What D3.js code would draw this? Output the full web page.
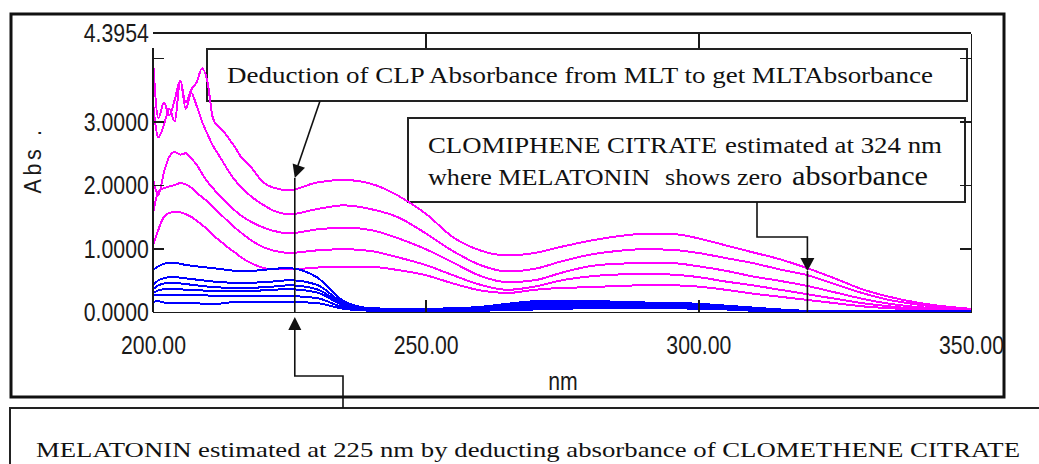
<!DOCTYPE html>
<html>
<head>
<meta charset="utf-8">
<script src="https://cdn.jsdelivr.net/npm/d3@7"></script>
<style>
  html, body { margin: 0; padding: 0; background: #fff; overflow: hidden; }
  svg { display: block; }
</style>
</head>
<body>
<svg id="chart" width="1039" height="464"></svg>
<script>
// Wavelength grid (nm) shared by every spectrum
const wavelengths = [200,201,202,203,204,205,206,207,208,209,210,211,212,213,214,215,216,218,220,222,225,
  230,235,240,245,250,255,260,265,270,275,280,285,290,295,300,305,310,315,320,325,330,335,340,345,350];

// Clomiphene citrate spectra (absorbance), highest to lowest concentration
const clp1 = [3.98,3.05,3.30,3.10,3.35,3.65,3.30,3.50,3.62,3.84,3.62,3.05,2.92,2.84,2.72,2.60,2.46,2.28,2.06,1.96,1.92,
  2.04,2.08,2.02,1.83,1.55,1.18,0.97,0.89,0.93,1.03,1.12,1.19,1.23,1.23,1.16,1.05,0.94,0.83,0.69,0.53,0.36,0.24,0.15,0.09,0.05];
const clp2 = [3.30,2.75,2.95,3.20,3.00,3.65,3.20,3.45,3.25,3.00,2.80,2.62,2.48,2.34,2.20,2.08,1.98,1.82,1.70,1.60,1.54,
  1.62,1.68,1.62,1.49,1.24,0.96,0.74,0.64,0.68,0.80,0.90,0.96,0.99,0.98,0.93,0.85,0.77,0.67,0.58,0.44,0.30,0.19,0.12,0.07,0.04];
const clp3 = [2.10,1.85,2.20,2.45,2.52,2.48,2.50,2.42,2.32,2.18,2.05,1.95,1.85,1.76,1.68,1.60,1.53,1.42,1.34,1.28,1.24,
  1.30,1.33,1.29,1.16,0.99,0.78,0.57,0.47,0.50,0.62,0.72,0.76,0.77,0.77,0.72,0.65,0.56,0.49,0.41,0.31,0.21,0.13,0.08,0.05,0.03];
const clp4 = [1.55,1.90,1.95,1.98,2.00,2.03,2.01,1.96,1.88,1.81,1.74,1.65,1.57,1.49,1.41,1.33,1.26,1.13,1.03,0.97,0.93,
  0.97,0.99,0.96,0.86,0.74,0.58,0.43,0.35,0.40,0.50,0.56,0.59,0.60,0.59,0.55,0.48,0.42,0.35,0.28,0.21,0.14,0.09,0.05,0.03,0.02];
const clp5 = [1.05,1.30,1.50,1.56,1.58,1.57,1.54,1.50,1.44,1.37,1.30,1.21,1.14,1.07,1.00,0.94,0.87,0.77,0.70,0.67,0.67,
  0.70,0.71,0.71,0.66,0.58,0.45,0.34,0.30,0.35,0.38,0.39,0.41,0.42,0.42,0.40,0.35,0.29,0.24,0.19,0.14,0.09,0.06,0.04,0.02,0.01];

// Melatonin spectra (absorbance)
const mlt1 = [0.66,0.72,0.76,0.77,0.77,0.76,0.74,0.73,0.72,0.71,0.70,0.69,0.68,0.67,0.66,0.65,0.65,0.65,0.66,0.68,0.69,
  0.55,0.17,0.06,0.05,0.05,0.06,0.08,0.13,0.17,0.18,0.18,0.16,0.15,0.14,0.13,0.10,0.07,0.04,0.02,0.02,0.02,0.02,0.02,0.02,0.02];
const mlt2 = [0.42,0.50,0.53,0.55,0.55,0.54,0.53,0.52,0.51,0.50,0.49,0.48,0.47,0.47,0.46,0.46,0.46,0.46,0.47,0.48,0.50,
  0.43,0.14,0.05,0.04,0.04,0.05,0.07,0.11,0.15,0.16,0.16,0.15,0.14,0.13,0.12,0.09,0.06,0.03,0.02,0.02,0.02,0.02,0.02,0.02,0.02];
const mlt3 = [0.36,0.42,0.45,0.46,0.46,0.45,0.44,0.43,0.42,0.41,0.40,0.39,0.39,0.38,0.38,0.38,0.38,0.38,0.39,0.40,0.42,
  0.36,0.12,0.04,0.03,0.03,0.04,0.06,0.09,0.12,0.13,0.13,0.13,0.12,0.11,0.10,0.08,0.05,0.03,0.02,0.02,0.02,0.02,0.02,0.02,0.02];
const mlt4 = [0.30,0.34,0.36,0.37,0.37,0.36,0.35,0.35,0.34,0.34,0.33,0.33,0.33,0.33,0.33,0.33,0.33,0.33,0.34,0.35,0.36,
  0.31,0.10,0.03,0.03,0.03,0.03,0.05,0.07,0.10,0.11,0.11,0.11,0.10,0.10,0.09,0.07,0.04,0.02,0.01,0.01,0.01,0.01,0.01,0.01,0.01];
const mlt5 = [0.26,0.27,0.27,0.27,0.27,0.27,0.26,0.26,0.26,0.26,0.26,0.25,0.25,0.25,0.25,0.25,0.25,0.25,0.25,0.25,0.25,
  0.22,0.07,0.02,0.02,0.02,0.02,0.04,0.05,0.07,0.08,0.09,0.09,0.08,0.08,0.07,0.05,0.03,0.02,0.01,0.01,0.01,0.01,0.01,0.01,0.01];
const mlt6 = [0.16,0.17,0.15,0.14,0.14,0.14,0.14,0.14,0.14,0.13,0.13,0.13,0.13,0.14,0.15,0.16,0.16,0.16,0.16,0.16,0.16,
  0.14,0.05,0.02,0.01,0.01,0.01,0.02,0.03,0.04,0.05,0.06,0.06,0.06,0.06,0.05,0.04,0.02,0.01,0.01,0.01,0.01,0.01,0.01,0.01,0.01];

// Axis ticks
const xTicks = [200, 250, 300, 350];
const yTicks = [0, 1, 2, 3, 4];
const yMax = 4.3954;

// Annotated wavelengths for the two estimations
const mltMarkNm = 226;
const clpMarkNm = 320;

const svg = d3.select("#chart");
const x = d3.scaleLinear().domain([200, 350]).range([153, 971]);
const y = d3.scaleLinear().domain([0, yMax]).range([312, 33]);

const ink = "#1a1a1a";
const sans = "'Liberation Sans', Arial, sans-serif";
const serif = "'Liberation Serif', 'Times New Roman', serif";

// Outer frame
svg.append("rect")
  .attr("x", 11).attr("y", 14).attr("width", 993).attr("height", 383)
  .attr("fill", "none").attr("stroke", "#111").attr("stroke-width", 3);

// Annotation boxes (outlines only, spectra show through)
function box(x0, y0, x1, y1) {
  svg.append("rect")
    .attr("x", x0).attr("y", y0).attr("width", x1 - x0).attr("height", y1 - y0)
    .attr("fill", "none").attr("stroke", "#222").attr("stroke-width", 1.8)
    .attr("shape-rendering", "crispEdges");
}
box(207, 49, 967, 101);
box(408, 118, 965, 202);
box(10, 408, 1060, 500);

// Spectra
const line = d3.line()
  .x(d => x(d[0]))
  .y(d => y(d[1]))
  .curve(d3.curveMonotoneX);

const pairs = s => wavelengths.map((w, i) => [w, s[i]]).filter(d => d[1] !== undefined);

const spectra = svg.append("g").attr("fill", "none").attr("shape-rendering", "crispEdges").attr("stroke-width", 2);
[clp1, clp2, clp3, clp4, clp5].forEach(s => {
  spectra.append("path").attr("d", line(pairs(s))).attr("stroke", "#ff00ff");
});
[mlt6, mlt5, mlt4, mlt3, mlt2, mlt1].forEach(s => {
  spectra.append("path").attr("d", line(pairs(s))).attr("stroke", "#0000ff");
});

// Axes
const fmtY = d3.format(".4f");
const fmtX = d3.format(".2f");

// left axis: inward ticks, labels on the outside
const axLeft = svg.append("g").attr("transform", "translate(153,0)")
  .call(d3.axisLeft(y).tickValues([...yTicks, yMax]).tickSizeInner(-11).tickSizeOuter(0).tickPadding(5)
    .tickFormat(d => d === 4 ? "" : fmtY(d)));
axLeft.select(".domain").remove();
axLeft.selectAll(".tick").filter(d => d === yMax).select("line").remove();
axLeft.append("line").attr("x1", 0).attr("x2", 0).attr("y1", 48).attr("y2", 312);

// right border with inward ticks
const axRight = svg.append("g").attr("transform", "translate(971,0)")
  .call(d3.axisRight(y).tickValues(yTicks.filter(d => d > 0)).tickSizeInner(-11).tickSizeOuter(0).tickFormat(""));

// top border with ticks
const axTop = svg.append("g").attr("transform", "translate(0,33)")
  .call(d3.axisTop(x).tickValues([250, 300]).tickSizeInner(-15).tickSizeOuter(0).tickFormat(""));
axTop.select(".domain").attr("d", `M${x(200)},0H${x(350)}`);

// bottom axis
const axBottom = svg.append("g").attr("transform", "translate(0,312)")
  .call(d3.axisBottom(x).tickValues(xTicks).tickSizeInner(-12).tickSizeOuter(0).tickFormat(fmtX));

[axLeft, axRight, axTop, axBottom].forEach(g => {
  g.selectAll("path, line").attr("stroke", ink).attr("stroke-width", 1.6).attr("shape-rendering", "crispEdges");
});
axLeft.selectAll("text")
  .attr("font-family", sans).attr("font-size", 25).attr("fill", ink)
  .attr("dy", "0.34em").attr("transform", "scale(0.85,1)");
axBottom.selectAll("text")
  .attr("font-family", sans).attr("font-size", 25).attr("fill", ink)
  .attr("y", 42).attr("dy", 0).attr("transform", "scale(0.85,1)");

// Axis titles
svg.append("text")
  .attr("transform", "translate(563,390) scale(0.85,1)")
  .attr("text-anchor", "middle")
  .attr("font-family", sans).attr("font-size", 25).attr("fill", ink)
  .text("nm");
svg.append("text")
  .attr("transform", "translate(41,160) rotate(-90) scale(0.9,1)")
  .attr("text-anchor", "middle")
  .attr("font-family", sans).attr("font-size", 24).attr("letter-spacing", 4).attr("fill", ink)
  .text("Abs .");

// Annotation text
function label(str, x0, x1, base, size) {
  svg.append("text")
    .attr("x", x0).attr("y", base)
    .attr("textLength", x1 - x0).attr("lengthAdjust", "spacingAndGlyphs")
    .attr("font-family", serif).attr("font-size", size).attr("fill", "#111")
    .text(str);
}
label("Deduction of CLP  Absorbance from MLT to get MLTAbsorbance", 227, 933, 83, 23);
label("CLOMIPHENE CITRATE", 428, 717, 153, 23);
label("estimated at 324 nm", 725, 942, 153, 23);
label("where MELATONIN", 428, 650, 185, 23);
label("shows zero", 665, 782, 185, 23);
label("absorbance", 792, 928, 185, 28);
label("MELATONIN  estimated at 225 nm by deducting absorbance of CLOMETHENE CITRATE", 36, 1020, 457, 22);

// Leader lines and arrowheads
const lead = svg.append("g").attr("fill", "none").attr("stroke", "#111").attr("stroke-width", 1.6);
const heads = svg.append("g").attr("fill", "#111");

function arrowHead(tx, ty, dx, dy, len, half) {
  const n = Math.hypot(dx, dy), ux = dx / n, uy = dy / n;
  const bx = tx - ux * len, by = ty - uy * len;
  heads.append("path").attr("d",
    `M${tx},${ty}L${bx - uy * half},${by + ux * half}L${bx + uy * half},${by - ux * half}Z`);
}

const xm = x(mltMarkNm), xc = x(clpMarkNm);

// deduction note -> marker at the melatonin wavelength
lead.append("path").attr("d", `M320,101L${xm + 3},166`);
arrowHead(xm, 178, xm - 320, 178 - 101, 13, 6.5);
lead.append("path").attr("d", `M${xm},178V${y(0)}`);

// clomiphene note -> marker at the clomiphene wavelength
lead.append("path").attr("d", `M757,202V237H${xc}V258`);
arrowHead(xc, 271, 0, 1, 13, 7);
lead.append("path").attr("d", `M${xc},271V${y(0)}`);

// melatonin note -> marker from below the axis
lead.append("path").attr("d", `M343,408V376H${xm}V330`);
arrowHead(xm, 317, 0, -1, 13, 6.5);
</script>
</body>
</html>
